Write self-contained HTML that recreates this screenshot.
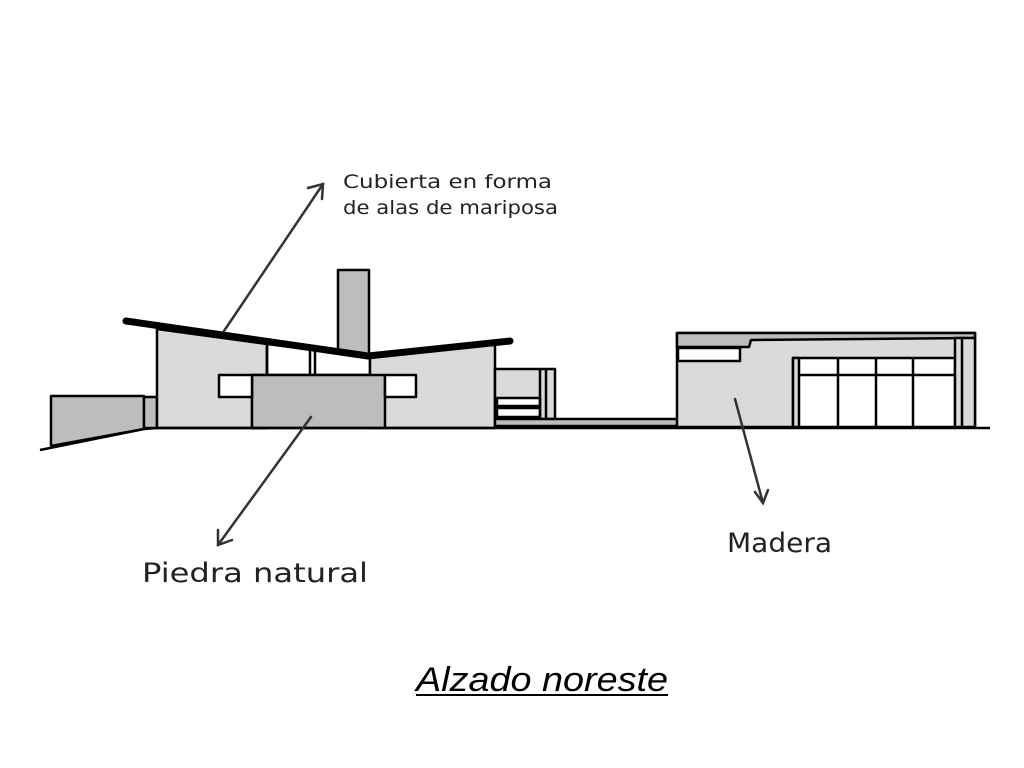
<!DOCTYPE html>
<html><head><meta charset="utf-8"><style>
html,body{margin:0;padding:0;background:#fff;width:1024px;height:768px;overflow:hidden}
</style></head><body>
<svg width="1024" height="768" viewBox="0 0 1024 768" xmlns="http://www.w3.org/2000/svg" font-family="'Liberation Sans', sans-serif">
<g stroke="#000" stroke-width="2.5" stroke-linejoin="round">
<polygon points="51,396 144,396 144,429 51,446" fill="#bdbdbd"/>
<rect x="144" y="397" width="13" height="31" fill="#bdbdbd"/>
<rect x="338" y="270" width="31" height="85" fill="#bdbdbd"/>
<polygon points="157,329 267,344 267,428 157,428" fill="#dadada"/>
<polygon points="267,344 370,357 370,375 267,375" fill="#fff"/>
<line x1="267" y1="344" x2="267" y2="375"/>
<line x1="310" y1="350" x2="310" y2="375"/><line x1="315" y1="350" x2="315" y2="375"/>
<polygon points="370,357 495,344 495,428 370,428" fill="#dadada"/>
<polygon points="252,375 267,375 267,428 252,428" fill="#dadada"/>
<rect x="252" y="375" width="133" height="53" fill="#bdbdbd"/>
<rect x="219" y="375" width="33" height="22" fill="#fff"/>
<rect x="385" y="375" width="31" height="22" fill="#fff"/>
<rect x="495" y="369" width="60" height="50" fill="#dadada"/>
<rect x="497" y="398" width="43" height="8" fill="#fff"/>
<rect x="497" y="408" width="43" height="9" fill="#fff"/>
<line x1="540" y1="369" x2="540" y2="419"/><line x1="546" y1="369" x2="546" y2="419"/>
<rect x="495" y="419" width="295" height="7" fill="#bdbdbd"/>
<rect x="677" y="333" width="298" height="94" fill="#dadada"/>
<polygon points="677,333 975,333 975,338 751,340 749,347 677,347" fill="#bdbdbd"/>
<rect x="678" y="348" width="62" height="13" fill="#fff"/>
<rect x="793" y="358" width="162" height="69" fill="#fff"/>
<rect x="793" y="358" width="6" height="69" fill="#dadada"/>
<line x1="799" y1="375" x2="955" y2="375"/>
<line x1="838" y1="358" x2="838" y2="427"/><line x1="876" y1="358" x2="876" y2="427"/><line x1="913" y1="358" x2="913" y2="427"/>
<rect x="955" y="338" width="20" height="89" fill="#dadada"/>
<line x1="962" y1="338" x2="962" y2="427"/>
<polyline points="40,450 144,429 157,428 990,428" fill="none"/>
</g>
<polyline points="126,321 368,356 510,341" fill="none" stroke="#000" stroke-width="7" stroke-linecap="round" stroke-linejoin="round"/>
<g stroke="#333" stroke-width="2.5" fill="none" stroke-linecap="round">
<line x1="224" y1="331" x2="323" y2="184"/><polyline points="308,188 323,184 322,199"/>
<line x1="311" y1="417" x2="218" y2="545"/><polyline points="218,530 218,545 232,540"/>
<line x1="735" y1="399" x2="763" y2="503"/><polyline points="755,492 763,503 768,490"/>
</g>
<g font-family="'DejaVu Sans', sans-serif" fill="#222">
<text x="343" y="188" font-size="19" textLength="209" lengthAdjust="spacingAndGlyphs">Cubierta en forma</text>
<text x="343" y="214" font-size="19" textLength="215" lengthAdjust="spacingAndGlyphs">de alas de mariposa</text>
<text x="142" y="582" font-size="27" textLength="226" lengthAdjust="spacingAndGlyphs">Piedra natural</text>
<text x="727" y="552" font-size="27" textLength="105" lengthAdjust="spacingAndGlyphs">Madera</text>
</g>
<text x="416" y="691" font-size="34" font-style="italic" fill="#000" textLength="252" lengthAdjust="spacingAndGlyphs">Alzado noreste</text>
<line x1="416" y1="695" x2="668" y2="695" stroke="#000" stroke-width="2"/>
</svg>
</body></html>
